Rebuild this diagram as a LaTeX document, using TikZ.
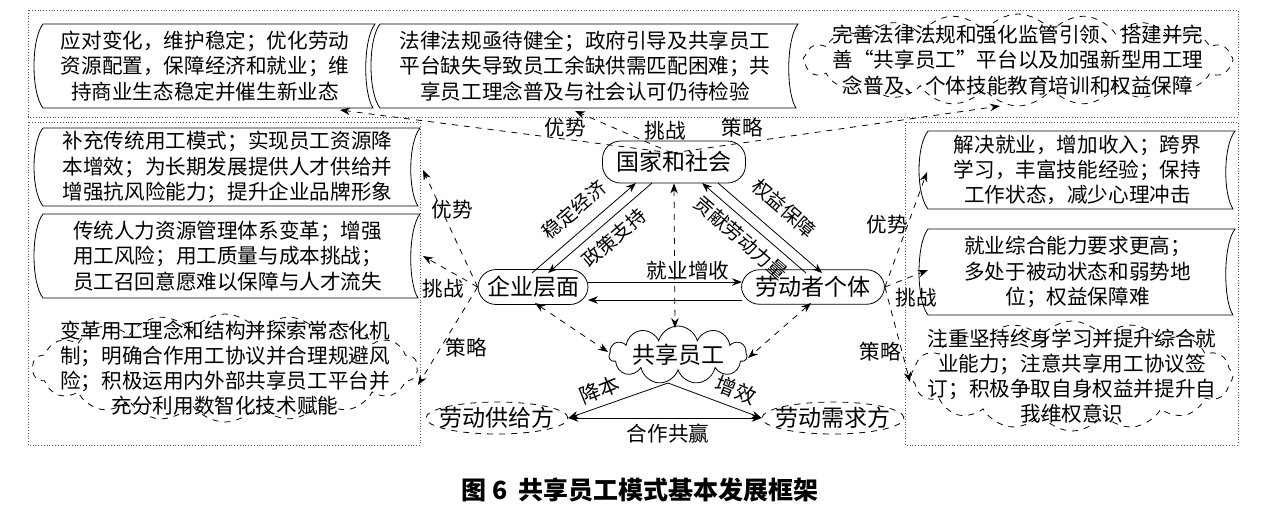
\documentclass[tikz,border=0pt]{standalone}
\usepackage{fontspec}
\setmainfont{Noto Sans CJK SC}
\usetikzlibrary{shapes.symbols,shapes.geometric,arrows.meta}
\newcommand{\tapeb}[5]{%
  \draw[thin] (#2+8,#3) -- (#4,#3) .. controls (#4-12,#3+15) and (#4-12,#5-15) .. (#4-2,#5)
    -- (#2+8,#5) .. controls (#2-4,#5-15) and (#2-4,#3+15) .. (#2+8,#3) -- cycle;
  \coordinate (#1) at ({(#2+#4)/2},{(#3+#5)/2});}
\begin{document}
\begin{tikzpicture}[x=0.5pt,y=-0.5pt,font=\fontsize{10.3}{12.6}\selectfont,
  txt/.style={align=center,inner sep=0},
  cl/.style={cloud,draw,dashed,cloud puff arc=110,inner sep=0},
  fr/.style={densely dotted,gray!70!black},
  da/.style={dashed,-{Stealth[length=5pt]}},
  dd/.style={dashed,{Stealth[length=5pt]}-{Stealth[length=5pt]}},
  sa/.style={-{Stealth[length=5pt]}},
  lab/.style={inner sep=1pt},
  dlab/.style={inner sep=0pt,font=\fontsize{9.6}{11}\selectfont}]
\useasboundingbox (0,0) rectangle (1261,511);
% frames
\draw[fr] (28,10) rectangle (1238,117);
\draw[fr] (28,122) rectangle (420,445);
\draw[fr] (905,122) rectangle (1238,445);
% top boxes
\tapeb{t1}{35}{24}{375}{108}
\node[txt] at (t1) {应对变化，维护稳定；优化劳动\\资源配置，保障经济和就业；维\\持商业生态稳定并催生新业态};
\tapeb{t2}{372}{24}{798}{108}
\node[txt] at (t2) {法律法规亟待健全；政府引导及共享员工\\平台缺失导致员工余缺供需匹配困难；共\\享员工理念普及与社会认可仍待检验};
\node[cl,cloud puffs=20,aspect=4.6,minimum width=430*0.5pt,minimum height=92*0.5pt] (t3c) at (1018,60) {};
\node[txt] (t3) at (1018,60) {完善法律法规和强化监管引领、搭建并完\\善“共享员工”平台以及加强新型用工理\\念普及、个体技能教育培训和权益保障};
% left boxes
\tapeb{l1}{35}{128}{420}{206}
\node[txt] at (l1) {补充传统用工模式；实现员工资源降\\本增效；为长期发展提供人才供给并\\增强抗风险能力；提升企业品牌形象};
\tapeb{l2}{35}{214}{420}{298}
\node[txt] at (l2) {传统人力资源管理体系变革；增强\\用工风险；用工质量与成本挑战；\\员工召回意愿难以保障与人才流失};
\node[cl,cloud puffs=18,aspect=3.6,minimum width=385*0.5pt,minimum height=108*0.5pt] (l3c) at (225,368) {};
\node[txt] (l3) at (225,368) {变革用工理念和结构并探索常态化机\\制；明确合作用工协议并合理规避风\\险；积极运用内外部共享员工平台并\\充分利用数智化技术赋能};
% right boxes
\tapeb{r1}{920}{131}{1235}{209}
\node[txt] at (r1) {解决就业，增加收入；跨界\\学习，丰富技能经验；保持\\工作状态，减少心理冲击};
\tapeb{r2}{920}{229}{1235}{315}
\node[txt] at (r2) {就业综合能力要求更高；\\多处于被动状态和弱势地\\位；权益保障难};
\node[cl,cloud puffs=16,aspect=2.9,minimum width=322*0.5pt,minimum height=110*0.5pt] (r3c) at (1072,376) {};
\node[txt] (r3) at (1072,376) {注重坚持终身学习并提升综合就\\业能力；注意共享用工协议签\\订；积极争取自身权益并提升自\\我维权意识};
% center nodes
\node[draw,rounded corners=9pt,minimum width=143*0.5pt,minimum height=42*0.5pt] (gj) at (674,162) {\fontsize{11.5}{13}\selectfont 国家和社会};
\node[draw,rounded corners=9pt,minimum width=110*0.5pt,minimum height=30*0.5pt] (qy) at (533,287) {\fontsize{11.5}{13}\selectfont 企业层面};
\node[draw,rounded corners=9pt,minimum width=143*0.5pt,minimum height=30*0.5pt] (ld) at (813,287) {\fontsize{11.5}{13}\selectfont 劳动者个体};
\node[cloud,draw,cloud puffs=11,aspect=2.4,minimum width=138*0.5pt,minimum height=58*0.5pt,inner sep=0] (gx) at (678,355) {};
\node at (gx) {\fontsize{11.5}{13}\selectfont 共享员工};
\node[ellipse,draw,dashed,minimum width=142*0.5pt,minimum height=32*0.5pt,inner sep=0] (gy) at (497,418) {};
\node at (gy) {\fontsize{11.5}{13}\selectfont 劳动供给方};
\node[ellipse,draw,dashed,minimum width=142*0.5pt,minimum height=32*0.5pt,inner sep=0] (xq) at (833,418) {};
\node at (xq) {\fontsize{11.5}{13}\selectfont 劳动需求方};
% dashed from gj
\coordinate (gjt) at (672,153);
\draw[da] (gjt) -- (340,110);
\draw[da] (gjt) -- (575,111);
\draw[da] (gjt) -- (1000,106);
\node[lab] at (565,128) {优势};
\node[lab] at (665,131) {挑战};
\node[lab] at (742,128) {策略};
% from qy
\draw[da] (qy.west) -- (423,170);
\draw[da] (qy.west) -- (423,256);
\draw[da] (qy.west) -- (418,385);
\node[lab] at (452,210) {优势};
\node[lab] at (443,289) {挑战};
\node[lab] at (466,348) {策略};
% from ld
\draw[da] (ld.east) -- (927,172);
\draw[da] (ld.east) -- (928,270);
\draw[da] (ld.east) -- (910,382);
\node[lab] at (887,225) {优势};
\node[lab] at (916,298) {挑战};
\node[lab] at (880,352) {策略};
% triangle
\draw[sa] (532,273) -- (636,183);
\draw[sa] (652,183) -- (548,273);
\draw[sa] (718,183) -- (822,273);
\draw[sa] (806,273) -- (702,183);
\node[dlab,rotate=41] at (574,210) {稳定经济};
\node[dlab,rotate=41] at (614,238) {政策支持};
\node[dlab,rotate=-41] at (741,238) {贡献劳动力量};
\node[dlab,rotate=-41] at (784,208) {权益保障};
\draw[sa] (588,282) -- (742,282);
\draw[sa] (742,300) -- (588,300);
\node[lab] at (688,271) {就业增收};
% dashed to gx
\draw[dd] (gj.south) -- (675,328);
\draw[dd] (535,303) -- (608,352);
\draw[dd] (811,303) -- (748,358);
% bottom
\coordinate (gxb) at (668,383);
\draw[sa] (gxb) -- (gy.east);
\draw[sa] (gxb) -- (xq.west);
\draw[{Stealth[length=5pt]}-{Stealth[length=5pt]}] (gy.east) -- (xq.west);
\node[lab,rotate=22] at (600,390) {降本};
\node[lab,rotate=-22] at (736,390) {增效};
\node[lab] at (668,434) {合作共赢};
\node[font=\fontsize{12.5}{14}\selectfont\bfseries] (cap) at (640,490) {图 6\ \ 共享员工模式基本发展框架};
\end{tikzpicture}
\end{document}
